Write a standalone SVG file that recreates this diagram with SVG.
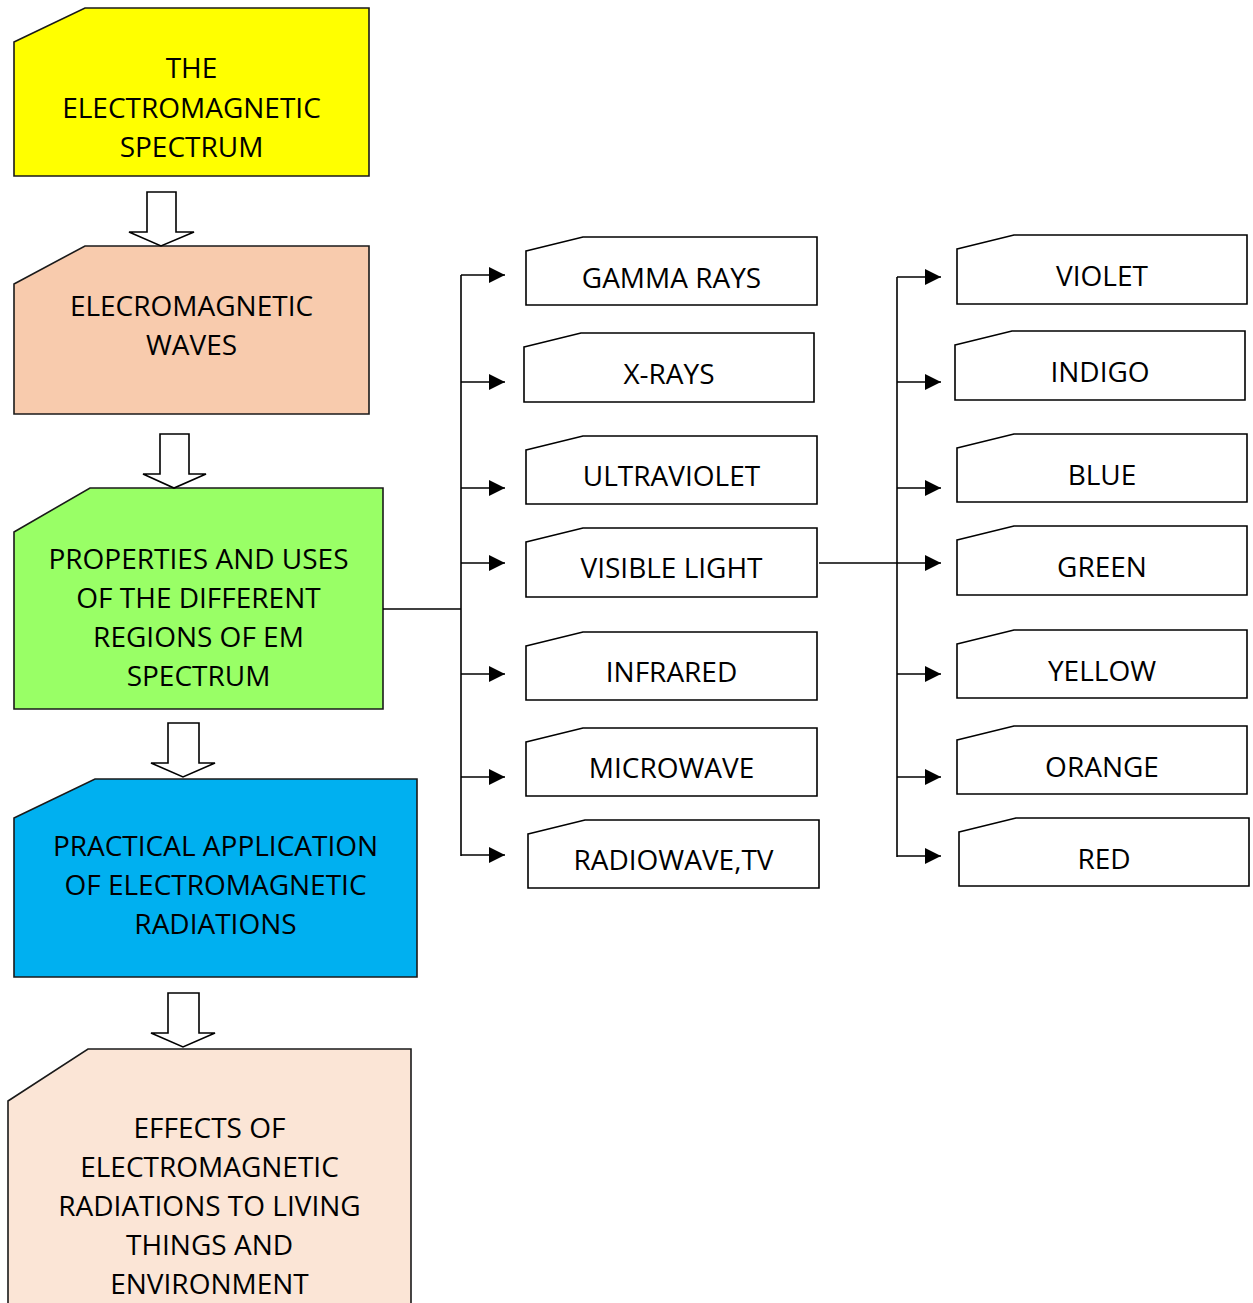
<svg xmlns="http://www.w3.org/2000/svg" width="1253" height="1303" viewBox="0 0 1253 1303">
<style>
.n{stroke:#1a1a1a;stroke-width:1.6}
.b{fill:#fff;stroke:#000;stroke-width:1.6}
.t{font-family:"Open Sans","Liberation Sans",sans-serif;font-size:28px;fill:#000;text-anchor:middle}
.c{fill:none;stroke:#000;stroke-width:1.6}
.ba{fill:#fff;stroke:#000;stroke-width:1.6}
</style>
<defs>
<marker id="ah" markerWidth="16" markerHeight="16" refX="16" refY="8" orient="auto" markerUnits="userSpaceOnUse">
<path d="M0,0 L16,8 L0,16 Z" fill="#000"/>
</marker>
</defs>
<rect width="1253" height="1303" fill="#fff"/>

<g id="n-spectrum">
<polygon class="n" fill="#FFFF00" points="14,42 85,8 369,8 369,176 14,176"/>
<text class="t" x="191.5" y="78">THE</text>
<text class="t" x="191.5" y="118">ELECTROMAGNETIC</text>
<text class="t" x="191.5" y="157">SPECTRUM</text>
</g>
<g id="n-waves">
<polygon class="n" fill="#F8CBAD" points="14,284 85,246 369,246 369,414 14,414"/>
<text class="t" x="191.5" y="316">ELECROMAGNETIC</text>
<text class="t" x="191.5" y="355">WAVES</text>
</g>
<g id="n-properties">
<polygon class="n" fill="#99FF66" points="14,532 90,488 383,488 383,709 14,709"/>
<text class="t" x="198.5" y="569">PROPERTIES AND USES</text>
<text class="t" x="198.5" y="608">OF THE DIFFERENT</text>
<text class="t" x="198.5" y="647">REGIONS OF EM</text>
<text class="t" x="198.5" y="686">SPECTRUM</text>
</g>
<g id="n-practical">
<polygon class="n" fill="#00B0F0" points="14,818 95,779 417,779 417,977 14,977"/>
<text class="t" x="215.5" y="856">PRACTICAL APPLICATION</text>
<text class="t" x="215.5" y="895">OF ELECTROMAGNETIC</text>
<text class="t" x="215.5" y="934">RADIATIONS</text>
</g>
<g id="n-effects">
<polygon class="n" fill="#FBE5D6" points="8,1101 88,1049 411,1049 411,1310 8,1310"/>
<text class="t" x="209.5" y="1138">EFFECTS OF</text>
<text class="t" x="209.5" y="1177">ELECTROMAGNETIC</text>
<text class="t" x="209.5" y="1216">RADIATIONS TO LIVING</text>
<text class="t" x="209.5" y="1255">THINGS AND</text>
<text class="t" x="209.5" y="1294">ENVIRONMENT</text>
</g>

<g id="n-gamma"><polygon class="b" points="526,251 583,237 817,237 817,305 526,305"/><text class="t" x="671.5" y="288">GAMMA RAYS</text></g>
<g id="n-xrays"><polygon class="b" points="524,347 581,333 814,333 814,402 524,402"/><text class="t" x="669" y="384">X-RAYS</text></g>
<g id="n-uv"><polygon class="b" points="526,450 583,436 817,436 817,504 526,504"/><text class="t" x="671.5" y="486">ULTRAVIOLET</text></g>
<g id="n-visible"><polygon class="b" points="526,542 583,528 817,528 817,597 526,597"/><text class="t" x="671.5" y="578">VISIBLE LIGHT</text></g>
<g id="n-infrared"><polygon class="b" points="526,646 583,632 817,632 817,700 526,700"/><text class="t" x="671.5" y="682">INFRARED</text></g>
<g id="n-microwave"><polygon class="b" points="526,742 583,728 817,728 817,796 526,796"/><text class="t" x="671.5" y="778">MICROWAVE</text></g>
<g id="n-radio"><polygon class="b" points="528,834 585,820 819,820 819,888 528,888"/><text class="t" x="673.5" y="870">RADIOWAVE,TV</text></g>

<g id="n-violet"><polygon class="b" points="957,249 1014,235 1247,235 1247,304 957,304"/><text class="t" x="1102" y="286">VIOLET</text></g>
<g id="n-indigo"><polygon class="b" points="955,345 1012,331 1245,331 1245,400 955,400"/><text class="t" x="1100" y="382">INDIGO</text></g>
<g id="n-blue"><polygon class="b" points="957,448 1014,434 1247,434 1247,502 957,502"/><text class="t" x="1102" y="485">BLUE</text></g>
<g id="n-green"><polygon class="b" points="957,540 1014,526 1247,526 1247,595 957,595"/><text class="t" x="1102" y="577">GREEN</text></g>
<g id="n-yellow"><polygon class="b" points="957,644 1014,630 1247,630 1247,698 957,698"/><text class="t" x="1102" y="681">YELLOW</text></g>
<g id="n-orange"><polygon class="b" points="957,740 1014,726 1247,726 1247,794 957,794"/><text class="t" x="1102" y="777">ORANGE</text></g>
<g id="n-red"><polygon class="b" points="959,832 1016,818 1249,818 1249,886 959,886"/><text class="t" x="1104" y="869">RED</text></g>

<g id="connectors">
<polygon class="ba" points="147,192 176,192 176,232 194,232 161,246 129,232 147,232"/>
<polygon class="ba" points="160,434 189,434 189,474 206,474 174,488 143,474 160,474"/>
<polygon class="ba" points="168,723 199,723 199,763 215,763 183,777 151,763 168,763"/>
<polygon class="ba" points="168,993 199,993 199,1033 215,1033 183,1047 151,1033 168,1033"/>

<path class="c" d="M383,609 H461"/>
<path class="c" d="M461,275 V856"/>
<path class="c" marker-end="url(#ah)" d="M461,275 H505"/>
<path class="c" marker-end="url(#ah)" d="M461,382 H505"/>
<path class="c" marker-end="url(#ah)" d="M461,488 H505"/>
<path class="c" marker-end="url(#ah)" d="M461,563 H505"/>
<path class="c" marker-end="url(#ah)" d="M461,674 H505"/>
<path class="c" marker-end="url(#ah)" d="M461,777 H505"/>
<path class="c" marker-end="url(#ah)" d="M461,855 H505"/>

<path class="c" d="M897,277 V857"/>
<path class="c" marker-end="url(#ah)" d="M897,277 H941"/>
<path class="c" marker-end="url(#ah)" d="M897,382 H941"/>
<path class="c" marker-end="url(#ah)" d="M897,488 H941"/>
<path class="c" marker-end="url(#ah)" d="M819,563 H941"/>
<path class="c" marker-end="url(#ah)" d="M897,674 H941"/>
<path class="c" marker-end="url(#ah)" d="M897,777 H941"/>
<path class="c" marker-end="url(#ah)" d="M897,856 H941"/>
</g>
</svg>
